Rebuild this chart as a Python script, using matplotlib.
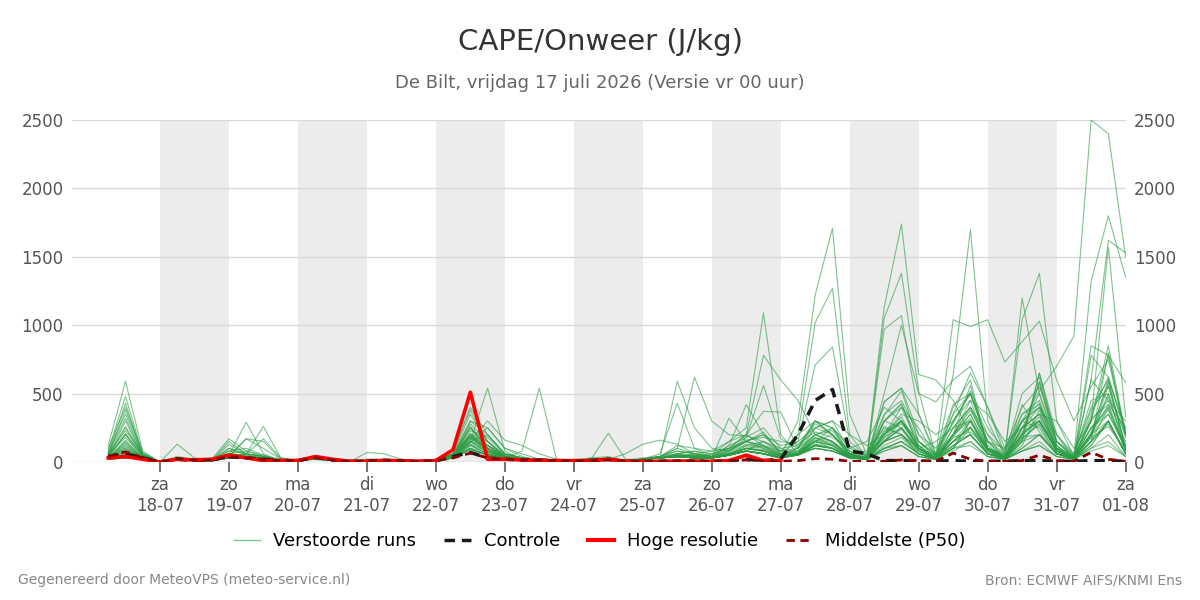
import numpy as np
import pandas as pd
import matplotlib
matplotlib.use("Agg")
import matplotlib.pyplot as plt
from matplotlib.lines import Line2D

# 6-hourly steps from 17-07 06 UTC up to 01-08 00 UTC
times = pd.date_range("2026-07-17 06:00", periods=60, freq="6h")

# Perturbed ensemble members (J/kg)
members = [
    [120, 590, 80, 0, 40, 20, 10, 60, 50, 30, 10, 20, 30, 10, 0, 20, 20, 10, 5, 20,
     50, 180, 100, 40, 30, 20, 10, 10, 20, 30, 10, 20, 40, 80, 60, 40, 90, 150, 220, 60,
     100, 250, 300, 80, 20, 440, 540, 350, 30, 200, 320, 90, 20, 160, 650, 200, 20, 300, 780, 200],
    [80, 480, 60, 0, 30, 20, 20, 80, 60, 40, 10, 20, 40, 10, 0, 10, 20, 10, 5, 20,
     60, 150, 120, 60, 30, 20, 10, 10, 30, 40, 10, 30, 40, 100, 60, 80, 150, 250, 1090, 200,
     60, 180, 120, 40, 30, 200, 330, 100, 20, 150, 250, 60, 30, 420, 220, 60, 40, 250, 400, 90],
    [60, 430, 50, 0, 20, 10, 10, 60, 40, 30, 10, 10, 30, 10, 0, 10, 10, 10, 5, 20,
     80, 380, 150, 50, 20, 20, 10, 10, 20, 30, 10, 20, 40, 60, 80, 60, 100, 200, 780, 600,
     450, 200, 150, 60, 20, 300, 400, 250, 40, 120, 200, 60, 30, 200, 580, 120, 30, 350, 620, 230],
    [100, 400, 70, 0, 30, 20, 20, 170, 80, 40, 20, 20, 30, 10, 0, 10, 20, 10, 5, 20,
     50, 200, 80, 40, 20, 10, 10, 10, 30, 20, 10, 20, 30, 50, 40, 40, 120, 180, 560, 170,
     100, 300, 200, 50, 30, 340, 520, 150, 30, 200, 560, 100, 40, 300, 430, 80, 20, 150, 280, 60],
    [50, 380, 60, 0, 30, 20, 10, 50, 40, 20, 10, 10, 30, 10, 0, 10, 10, 10, 5, 10,
     30, 250, 100, 30, 20, 20, 10, 10, 20, 20, 10, 20, 30, 40, 50, 30, 60, 100, 120, 50,
     300, 1220, 1710, 350, 50, 200, 300, 120, 30, 250, 400, 150, 20, 120, 380, 60, 30, 200, 480, 100],
    [70, 350, 50, 0, 20, 10, 10, 50, 40, 30, 10, 10, 30, 10, 0, 10, 10, 10, 5, 10,
     40, 300, 200, 60, 30, 20, 10, 10, 20, 20, 10, 20, 30, 60, 50, 40, 80, 150, 200, 80,
     200, 1020, 1270, 200, 30, 150, 250, 80, 20, 180, 350, 100, 30, 250, 500, 100, 20, 180, 560, 120],
    [40, 300, 40, 0, 20, 10, 10, 40, 30, 20, 10, 10, 20, 10, 0, 10, 10, 10, 5, 10,
     30, 150, 80, 30, 20, 10, 10, 10, 20, 20, 10, 20, 30, 40, 30, 30, 60, 80, 150, 60,
     150, 710, 840, 150, 40, 260, 200, 60, 20, 100, 300, 80, 20, 150, 650, 150, 30, 250, 380, 80],
    [40, 250, 40, 0, 20, 20, 10, 30, 30, 20, 10, 10, 30, 10, 0, 10, 10, 10, 5, 10,
     60, 250, 100, 40, 20, 20, 10, 10, 20, 20, 10, 20, 30, 50, 40, 30, 50, 120, 100, 40,
     80, 150, 120, 50, 40, 1130, 1740, 640, 600, 450, 200, 60, 30, 200, 300, 80, 20, 150, 300, 60],
    [30, 200, 30, 0, 20, 10, 10, 30, 30, 20, 10, 10, 20, 10, 0, 10, 10, 10, 5, 10,
     40, 180, 80, 30, 20, 10, 10, 10, 20, 20, 10, 20, 30, 40, 50, 30, 50, 100, 80, 30,
     60, 200, 150, 40, 30, 1050, 1380, 520, 40, 350, 500, 200, 20, 250, 400, 100, 30, 300, 850, 200],
    [50, 180, 40, 0, 130, 30, 20, 60, 40, 20, 10, 10, 30, 10, 0, 10, 10, 10, 5, 10,
     40, 120, 60, 30, 20, 10, 10, 10, 20, 20, 10, 20, 30, 60, 40, 30, 80, 150, 120, 60,
     80, 200, 230, 60, 20, 970, 1070, 350, 60, 200, 450, 100, 40, 200, 590, 120, 20, 200, 420, 100],
    [30, 160, 30, 0, 20, 10, 10, 150, 60, 40, 10, 10, 30, 10, 0, 10, 10, 10, 5, 10,
     50, 200, 120, 40, 20, 10, 10, 10, 20, 20, 10, 20, 30, 40, 30, 30, 60, 100, 80, 40,
     60, 150, 200, 60, 30, 500, 1000, 500, 440, 600, 700, 400, 50, 300, 400, 100, 30, 200, 350, 100],
    [30, 150, 30, 0, 20, 10, 10, 130, 60, 40, 10, 10, 30, 10, 0, 10, 10, 10, 5, 10,
     30, 150, 200, 60, 30, 20, 10, 10, 20, 20, 10, 20, 30, 40, 30, 30, 60, 100, 80, 40,
     100, 300, 250, 60, 30, 440, 540, 200, 50, 300, 500, 150, 30, 200, 330, 80, 20, 150, 800, 200],
    [30, 130, 30, 0, 20, 10, 10, 50, 290, 60, 10, 10, 30, 10, 0, 10, 10, 10, 5, 10,
     40, 100, 50, 30, 20, 10, 10, 10, 20, 20, 10, 20, 30, 40, 30, 30, 50, 80, 60, 30,
     60, 150, 120, 40, 30, 200, 300, 150, 50, 1040, 990, 1040, 730, 880, 1030, 600, 300, 550, 750, 200],
    [30, 120, 30, 0, 20, 10, 10, 40, 170, 150, 20, 10, 30, 10, 0, 10, 10, 10, 5, 10,
     30, 100, 50, 30, 20, 10, 10, 10, 20, 20, 10, 20, 30, 40, 30, 30, 50, 80, 60, 30,
     60, 120, 100, 40, 20, 150, 250, 100, 20, 640, 1700, 300, 40, 250, 350, 100, 20, 120, 300, 60],
    [30, 110, 30, 0, 20, 10, 10, 40, 170, 100, 20, 10, 30, 10, 0, 10, 10, 10, 5, 10,
     30, 150, 90, 30, 20, 10, 10, 10, 20, 20, 10, 20, 30, 40, 30, 30, 50, 100, 80, 30,
     60, 150, 100, 40, 20, 200, 400, 120, 20, 150, 300, 100, 50, 1200, 500, 150, 30, 200, 600, 100],
    [30, 100, 30, 0, 20, 10, 10, 40, 60, 260, 30, 10, 30, 10, 0, 10, 10, 10, 5, 10,
     30, 120, 60, 30, 20, 10, 10, 10, 20, 20, 10, 20, 30, 40, 30, 30, 50, 80, 60, 30,
     60, 130, 100, 40, 20, 150, 300, 100, 20, 200, 400, 100, 60, 1040, 1380, 300, 40, 200, 500, 80],
    [30, 90, 30, 0, 20, 10, 10, 40, 60, 170, 30, 10, 30, 10, 0, 10, 10, 10, 5, 10,
     30, 150, 70, 30, 20, 10, 10, 10, 20, 20, 10, 20, 30, 40, 30, 30, 50, 80, 60, 30,
     50, 100, 80, 30, 20, 150, 200, 80, 20, 250, 300, 60, 20, 300, 250, 60, 40, 1320, 1800, 1350],
    [30, 80, 30, 0, 20, 10, 10, 40, 30, 20, 10, 10, 30, 10, 0, 70, 60, 20, 5, 10,
     40, 180, 80, 30, 20, 10, 10, 10, 20, 20, 10, 20, 30, 40, 30, 30, 50, 80, 60, 30,
     60, 150, 120, 40, 20, 180, 250, 100, 30, 200, 380, 150, 100, 300, 520, 700, 920, 2500, 2400, 1500],
    [30, 70, 30, 0, 20, 10, 10, 40, 30, 20, 10, 10, 30, 10, 0, 10, 10, 10, 5, 10,
     80, 400, 200, 60, 30, 10, 10, 10, 20, 20, 10, 20, 30, 40, 30, 30, 50, 80, 60, 30,
     60, 100, 80, 30, 20, 150, 200, 100, 20, 100, 300, 80, 20, 150, 300, 80, 20, 600, 1620, 1530],
    [30, 60, 30, 0, 20, 10, 10, 40, 30, 20, 10, 10, 30, 10, 0, 10, 10, 10, 5, 10,
     60, 350, 150, 40, 20, 10, 10, 10, 20, 20, 10, 20, 30, 40, 30, 30, 50, 80, 60, 30,
     60, 130, 100, 30, 20, 120, 180, 60, 20, 100, 250, 60, 30, 200, 300, 100, 50, 300, 1570, 330],
    [30, 60, 30, 0, 20, 10, 10, 40, 30, 20, 10, 10, 30, 10, 0, 10, 10, 10, 5, 10,
     40, 280, 150, 40, 20, 10, 10, 10, 20, 20, 10, 20, 30, 40, 30, 30, 50, 80, 60, 30,
     60, 180, 150, 40, 30, 230, 300, 100, 30, 300, 500, 120, 30, 250, 300, 80, 30, 850, 780, 580],
    [20, 50, 20, 0, 20, 10, 10, 30, 30, 20, 10, 10, 30, 10, 0, 10, 10, 10, 5, 10,
     40, 200, 100, 30, 20, 10, 10, 10, 20, 20, 10, 20, 30, 40, 30, 30, 50, 80, 60, 30,
     60, 250, 200, 40, 20, 300, 250, 80, 20, 400, 600, 100, 30, 350, 450, 100, 20, 780, 620, 200],
    [20, 50, 20, 0, 20, 10, 10, 30, 30, 20, 10, 10, 30, 10, 0, 10, 10, 10, 5, 10,
     40, 150, 540, 80, 20, 10, 10, 10, 20, 20, 10, 20, 30, 40, 30, 30, 50, 80, 60, 30,
     50, 120, 100, 30, 20, 100, 150, 60, 20, 150, 200, 60, 20, 100, 200, 60, 20, 150, 400, 100],
    [20, 40, 20, 0, 20, 10, 10, 30, 30, 20, 10, 10, 30, 10, 0, 10, 10, 10, 5, 10,
     40, 160, 300, 160, 120, 60, 20, 10, 20, 20, 10, 20, 30, 40, 30, 30, 50, 80, 60, 30,
     50, 120, 100, 30, 20, 100, 150, 60, 20, 200, 300, 80, 20, 180, 270, 60, 20, 220, 580, 100],
    [20, 40, 20, 0, 20, 10, 10, 30, 30, 20, 10, 10, 30, 10, 0, 10, 10, 10, 5, 10,
     40, 140, 250, 100, 60, 20, 10, 10, 20, 20, 10, 20, 40, 100, 620, 300, 200, 190, 150, 100,
     50, 120, 100, 30, 20, 100, 150, 60, 20, 120, 200, 60, 20, 100, 200, 60, 20, 150, 300, 60],
    [20, 40, 20, 0, 20, 10, 10, 30, 30, 20, 10, 10, 30, 10, 0, 10, 10, 10, 5, 10,
     30, 130, 60, 30, 80, 540, 20, 10, 20, 20, 10, 20, 30, 40, 30, 30, 50, 80, 60, 30,
     50, 100, 80, 30, 20, 80, 120, 40, 20, 100, 150, 40, 20, 80, 150, 40, 20, 100, 200, 40],
    [20, 30, 20, 0, 20, 10, 10, 30, 30, 20, 10, 10, 30, 10, 0, 10, 10, 10, 5, 10,
     30, 100, 50, 30, 20, 10, 10, 10, 20, 210, 20, 20, 30, 40, 30, 30, 320, 150, 100, 50,
     60, 100, 80, 30, 20, 100, 120, 40, 20, 80, 150, 40, 20, 80, 120, 40, 20, 100, 150, 40],
    [20, 30, 20, 0, 20, 10, 10, 30, 30, 20, 10, 10, 30, 10, 0, 10, 10, 10, 5, 10,
     30, 100, 50, 30, 20, 10, 10, 10, 20, 20, 60, 130, 160, 130, 60, 40, 120, 420, 200, 60,
     60, 120, 100, 30, 20, 80, 120, 40, 20, 100, 120, 40, 20, 80, 120, 40, 20, 80, 120, 40],
    [20, 30, 20, 0, 20, 10, 10, 30, 30, 20, 10, 10, 30, 10, 0, 10, 10, 10, 5, 10,
     30, 90, 50, 30, 20, 10, 10, 10, 20, 20, 10, 20, 30, 590, 250, 100, 80, 150, 120, 40,
     200, 300, 250, 60, 30, 150, 200, 60, 20, 120, 200, 60, 20, 150, 200, 60, 20, 120, 300, 60],
    [20, 30, 20, 0, 20, 10, 10, 30, 30, 20, 10, 10, 30, 10, 0, 10, 10, 10, 5, 10,
     30, 90, 50, 30, 20, 10, 10, 10, 20, 20, 10, 20, 60, 430, 100, 80, 100, 200, 370, 365,
     100, 200, 150, 40, 20, 300, 430, 100, 30, 200, 350, 100, 20, 180, 200, 60, 20, 200, 300, 60],
    [20, 80, 40, 0, 30, 10, 10, 60, 40, 30, 10, 10, 20, 10, 0, 20, 20, 10, 5, 10,
     30, 200, 120, 40, 20, 10, 10, 10, 20, 30, 10, 20, 30, 50, 40, 60, 100, 150, 200, 120,
     150, 250, 300, 200, 120, 200, 350, 300, 200, 300, 450, 350, 150, 250, 350, 300, 100, 300, 450, 150],
    [40, 200, 50, 0, 30, 20, 10, 80, 100, 50, 10, 10, 30, 10, 0, 10, 10, 10, 5, 10,
     50, 230, 180, 60, 30, 20, 10, 10, 20, 20, 10, 20, 40, 120, 100, 50, 150, 200, 120, 80,
     80, 200, 250, 100, 150, 400, 300, 100, 50, 350, 650, 400, 100, 400, 550, 200, 60, 400, 600, 250],
    [60, 230, 60, 0, 30, 10, 10, 100, 60, 40, 10, 10, 30, 10, 0, 10, 10, 10, 5, 10,
     60, 300, 250, 100, 40, 10, 10, 10, 20, 20, 10, 20, 30, 40, 60, 40, 80, 180, 250, 100,
     120, 300, 200, 80, 40, 300, 420, 150, 60, 420, 500, 150, 60, 500, 620, 150, 40, 600, 450, 300],
    [30, 140, 30, 0, 20, 10, 10, 60, 80, 50, 10, 10, 30, 10, 0, 10, 10, 10, 5, 10,
     40, 170, 120, 40, 20, 10, 10, 10, 20, 20, 10, 20, 30, 40, 30, 30, 60, 120, 150, 80,
     100, 280, 200, 60, 80, 250, 200, 100, 150, 250, 400, 200, 80, 300, 400, 200, 40, 450, 500, 200],
    [50, 260, 50, 0, 30, 10, 10, 100, 50, 30, 10, 10, 30, 10, 0, 10, 10, 10, 5, 10,
     50, 210, 150, 50, 30, 10, 10, 10, 20, 20, 10, 20, 30, 60, 80, 40, 100, 160, 180, 150,
     130, 220, 180, 100, 60, 350, 450, 200, 100, 280, 520, 250, 80, 350, 420, 150, 60, 380, 550, 180],
    [30, 100, 30, 0, 20, 10, 10, 40, 40, 20, 10, 10, 30, 10, 0, 10, 10, 10, 5, 10,
     30, 130, 80, 30, 20, 10, 10, 10, 20, 20, 10, 20, 30, 40, 30, 30, 50, 100, 80, 50,
     60, 150, 250, 120, 40, 180, 300, 150, 40, 150, 250, 100, 30, 250, 350, 120, 30, 320, 420, 250],
    [60, 320, 50, 0, 20, 10, 10, 60, 40, 30, 10, 10, 30, 10, 0, 10, 10, 10, 5, 10,
     40, 260, 120, 40, 20, 10, 10, 10, 20, 20, 10, 20, 40, 80, 60, 40, 60, 100, 90, 50,
     60, 160, 130, 60, 30, 220, 280, 120, 30, 180, 220, 100, 40, 220, 300, 100, 30, 250, 350, 120],
    [40, 210, 40, 0, 20, 10, 10, 50, 30, 20, 10, 10, 30, 10, 0, 10, 10, 10, 5, 10,
     50, 190, 100, 40, 20, 10, 10, 10, 20, 20, 10, 20, 30, 50, 40, 30, 70, 130, 110, 60,
     70, 170, 140, 50, 30, 160, 240, 90, 30, 150, 260, 90, 30, 170, 280, 90, 30, 180, 260, 90],
]

controle = [40, 60, 30, 0, 20, 10, 15, 40, 30, 20, 10, 10, 35, 15, 5, 5, 10, 10, 5, 10,
            40, 70, 30, 20, 15, 15, 10, 10, 10, 20, 5, 5, 5, 5, 5, 5, 10, 20, 10, 20,
            200, 450, 530, 80, 60, 10, 10, 5, 5, 10, 5, 5, 5, 10, 10, 5, 5, 10, 10, 5]

# high resolution run stops after 27-07 00 UTC
hres = [30, 40, 20, 0, 20, 15, 20, 50, 30, 10, 10, 10, 40, 20, 5, 5, 10, 10, 5, 10,
        90, 510, 20, 20, 15, 10, 10, 10, 10, 20, 5, 5, 5, 5, 5, 5, 10, 50, 10, 10]

p50 = [40, 75, 30, 0, 25, 15, 15, 40, 30, 20, 10, 10, 30, 15, 5, 10, 15, 10, 5, 10,
       30, 65, 30, 20, 15, 15, 10, 10, 10, 15, 5, 5, 5, 10, 10, 5, 10, 15, 10, 5,
       10, 25, 20, 5, 5, 5, 15, 10, 5, 65, 20, 5, 5, 10, 50, 10, 5, 70, 20, 5]

day_names = ["ma", "di", "wo", "do", "vr", "za", "zo"]
shaded_days = pd.date_range("2026-07-18", periods=7, freq="2D")
tick_days = pd.date_range("2026-07-18", "2026-08-01", freq="D")

fig = plt.figure(figsize=(12, 6), dpi=100)
ax = fig.add_axes([0.06, 0.23, 0.878, 0.57])

for d in shaded_days:
    ax.axvspan(d, d + pd.Timedelta(days=1), color="#ececec", lw=0, zorder=0)

for m in members:
    ax.plot(times, m, color="#2a9d44", lw=0.8, alpha=0.6, zorder=2)

ax.plot(times, controle, color="#1a1a1a", lw=2.5, ls=(0, (3, 2)), zorder=4)
ax.plot(times[:len(hres)], hres, color="#ff0000", lw=2.6, zorder=5)
ax.plot(times, p50, color="#8b0000", lw=2, ls=(0, (3, 2)), zorder=6)

ax.set_xlim(pd.Timestamp("2026-07-16 17:24"), pd.Timestamp("2026-08-01 00:00"))
ax.set_ylim(0, 2500)
ax.set_yticks(np.arange(0, 2501, 500))
ax.yaxis.grid(True, color="#d9d9d9", lw=1)
ax.set_axisbelow(True)
ax.tick_params(axis="y", length=0, labelsize=12, labelcolor="#555555",
               labelleft=True, labelright=True, pad=6)

ax.set_xticks(tick_days)
ax.set_xticklabels([f"{day_names[d.weekday()]}\n{d.strftime('%d-%m')}" for d in tick_days])
ax.tick_params(axis="x", length=7, width=1.5, color="#777777", labelsize=12,
               labelcolor="#555555", pad=3)
for s in ax.spines.values():
    s.set_visible(False)

fig.text(0.5, 0.93, "CAPE/Onweer (J/kg)", ha="center", va="center",
         fontsize=21, color="#333333")
fig.text(0.5, 0.861, "De Bilt, vrijdag 17 juli 2026 (Versie vr 00 uur)", ha="center",
         va="center", fontsize=13, color="#666666")

handles = [
    Line2D([], [], color="#7cc48c", lw=1),
    Line2D([], [], color="#1a1a1a", lw=2.5, ls=(0, (3, 2))),
    Line2D([], [], color="#ff0000", lw=3),
    Line2D([], [], color="#8b0000", lw=2, ls=(0, (3, 2))),
]
labels = ["Verstoorde runs", "Controle", "Hoge resolutie", "Middelste (P50)"]
fig.legend(handles, labels, loc="center", bbox_to_anchor=(0.5, 0.098), ncol=4,
           frameon=False, fontsize=13, handlelength=1.45, handletextpad=0.72,
           columnspacing=1.55)

fig.text(0.015, 0.033, "Gegenereerd door MeteoVPS (meteo-service.nl)", ha="left",
         va="center", fontsize=10, color="#888888")
fig.text(0.985, 0.033, "Bron: ECMWF AIFS/KNMI Ens", ha="right", va="center",
         fontsize=10, color="#888888")

fig.savefig("out.png", dpi=100)
